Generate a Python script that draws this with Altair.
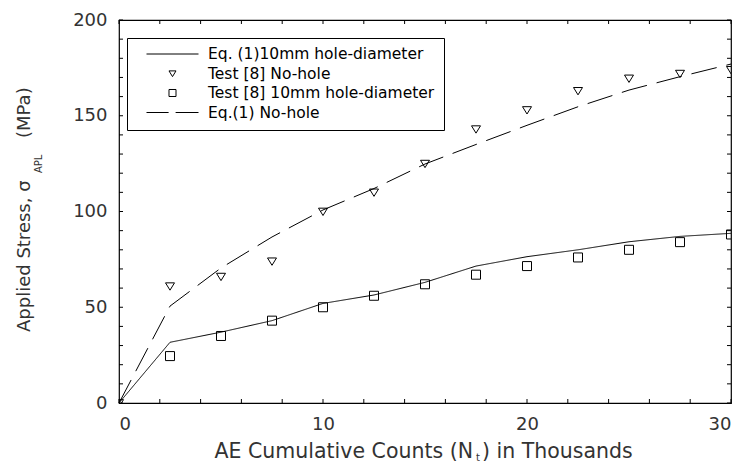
import altair as alt
import pandas as pd

# ---- data ----
S1 = "Eq. (1)10mm hole-diameter"
S2 = "Test [8] No-hole"
S3 = "Test [8] 10mm hole-diameter"
S4 = "Eq.(1) No-hole"
series_order = [S1, S2, S3, S4]

test_nohole_x = [0, 2.5, 5, 7.5, 10, 12.5, 15, 17.5, 20, 22.5, 25, 27.5, 30]
test_nohole_y = [0, 61, 66, 74, 100, 110, 125, 143, 153, 163, 169.5, 172, 174]
test_10mm_x = [2.5, 5, 7.5, 10, 12.5, 15, 17.5, 20, 22.5, 25, 27.5, 30]
test_10mm_y = [24.5, 35, 43, 50, 56, 62, 67, 71.5, 76, 80, 84, 88]

eq_x = [0, 2.5, 5, 7.5, 10, 12.5, 15, 17.5, 20, 22.5, 25, 27.5, 30]
eq_10mm_y = [0, 31.7, 37, 43, 52, 56.4, 63, 71.5, 76.4, 80, 84.2, 87, 88.6]
eq_nohole_y = [0, 50.6, 70.5, 86.7, 100.8, 112, 124.8, 135, 145, 154.7, 163.4, 170.4, 177]

x_tick_labels = [0, 10, 20, 30]
y_tick_labels = [0, 50, 100, 150, 200]
x_minor = [0, 2, 4, 6, 8, 10, 12, 14, 16, 18, 20, 22, 24, 26, 28, 30]
y_minor = [0, 10, 20, 30, 40, 50, 60, 70, 80, 90, 100, 110, 120, 130, 140,
           150, 160, 170, 180, 190, 200]

pts = pd.concat([
    pd.DataFrame({"x": test_nohole_x, "y": test_nohole_y, "series": S2}),
    pd.DataFrame({"x": test_10mm_x, "y": test_10mm_y, "series": S3}),
])
lines = pd.concat([
    pd.DataFrame({"x": eq_x, "y": eq_10mm_y, "series": S1}),
    pd.DataFrame({"x": eq_x, "y": eq_nohole_y, "series": S4}),
])

FONT = "DejaVu Sans"
W, H = 612, 383

shape_range = [
    "M-1,0L1,0",
    "M-0.135,-0.1L0.135,-0.1L0,0.12Z",
    "M-0.135,-0.135L0.135,-0.135L0.135,0.135L-0.135,0.135Z",
    "M-1,0L-0.15,0M0.12,0L1,0",
]

xscale = alt.Scale(domain=[0, 30], nice=False, zero=False)
yscale = alt.Scale(domain=[0, 200], nice=False, zero=False)

xaxis = alt.Axis(values=x_tick_labels, title=None, grid=False, ticks=False, tickSize=0,
                 domain=False, labelPadding=12, labelFont=FONT, labelFontSize=18,
                 labelColor="#333333", format="d")
yaxis = alt.Axis(values=y_tick_labels, title=None, grid=False, ticks=False, tickSize=0,
                 domain=False, labelPadding=12, labelFont=FONT, labelFontSize=18,
                 labelColor="#333333", format="d")

points = alt.Chart(pts).mark_point(filled=False, color="black", strokeWidth=1,
                                   size=4444, clip=True, opacity=1).encode(
    x=alt.X("x:Q", scale=xscale, axis=xaxis),
    y=alt.Y("y:Q", scale=yscale, axis=yaxis),
    shape=alt.Shape("series:N", scale=alt.Scale(domain=series_order, range=shape_range),
                    legend=alt.Legend(
                        title=None, orient="none", legendX=8, legendY=18,
                        padding=9, strokeColor="black", fillColor="white",
                        labelFont=FONT, labelFontSize=15.5, labelColor="black",
                        symbolSize=2704, symbolStrokeColor="black",
                        symbolStrokeWidth=1, symbolFillColor="transparent",
                        symbolOffset=10, labelOffset=9, clipHeight=14,
                        rowPadding=3.5, labelLimit=400)),
)

eq_lines = alt.Chart(lines).mark_line(color="black", strokeWidth=1).encode(
    x=alt.X("x:Q", scale=xscale, axis=xaxis),
    y=alt.Y("y:Q", scale=yscale, axis=yaxis),
    strokeDash=alt.StrokeDash("series:N", scale=alt.Scale(domain=[S1, S4], range=[[1, 0], [26, 10]]),
                              legend=None),
    detail="series:N",
)

xt = pd.DataFrame({"v": x_minor})
yt = pd.DataFrame({"v": y_minor})
rule_style = dict(color="black", strokeWidth=1)
xt_bottom = alt.Chart(xt).mark_rule(**rule_style).encode(
    x=alt.X("v:Q", scale=xscale, axis=xaxis), y=alt.value(H), y2=alt.value(H - 4))
xt_top = alt.Chart(xt).mark_rule(**rule_style).encode(
    x=alt.X("v:Q", scale=xscale, axis=xaxis), y=alt.value(0), y2=alt.value(4))
yt_left = alt.Chart(yt).mark_rule(**rule_style).encode(
    y=alt.Y("v:Q", scale=yscale, axis=yaxis), x=alt.value(0), x2=alt.value(4))
yt_right = alt.Chart(yt).mark_rule(**rule_style).encode(
    y=alt.Y("v:Q", scale=yscale, axis=yaxis), x=alt.value(W), x2=alt.value(W - 4))


def txt(s, x, y, size, align="left", angle=0, baseline="alphabetic"):
    return alt.Chart(pd.DataFrame({"t": [s]})).mark_text(
        font=FONT, fontSize=size, color="#333333", align=align, baseline=baseline,
        angle=angle).encode(text="t:N", x=alt.value(x), y=alt.value(y))


titles = [
    txt("AE Cumulative Counts (N", 354, 438, 20.5, align="right"),
    txt("t", 357, 441, 10),
    txt(") in Thousands", 363, 438, 20.5),
    txt("Applied Stress, \u03c3", -89, 312, 18, angle=270),
    txt("APL", -77, 153, 10, angle=270),
    txt("(MPa)", -89, 118, 18, angle=270),
]

chart = alt.layer(eq_lines, points, xt_bottom, xt_top, yt_left, yt_right, *titles).properties(
    width=W, height=H,
    autosize=alt.AutoSizeParams(type="none"),
    padding={"left": 111, "top": 12, "right": 4, "bottom": 61},
).configure_view(stroke="black", strokeWidth=1.2)

chart.save("out.html", embed_options={"renderer": "svg", "actions": False})
